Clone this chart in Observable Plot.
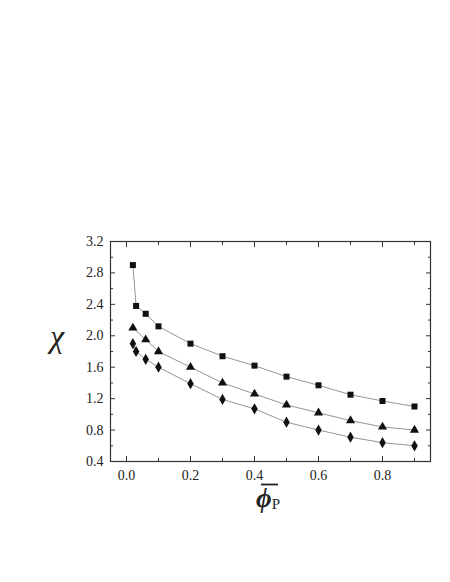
<!DOCTYPE html>
<html><head><meta charset="utf-8">
<script src="https://cdn.jsdelivr.net/npm/d3@7"></script>
<script src="https://cdn.jsdelivr.net/npm/@observablehq/plot@0.6"></script>
<style>
body{margin:0;background:#fff}
</style>
</head><body><div id="chart"></div>
<script>
const squareX = [0.02, 0.03, 0.06, 0.1, 0.2, 0.3, 0.4, 0.5, 0.6, 0.7, 0.8, 0.9];
const squareY = [2.90, 2.38, 2.28, 2.12, 1.90, 1.74, 1.62, 1.48, 1.37, 1.25, 1.17, 1.10];
const triangleX = [0.02, 0.06, 0.1, 0.2, 0.3, 0.4, 0.5, 0.6, 0.7, 0.8, 0.9];
const triangleY = [2.10, 1.95, 1.80, 1.60, 1.40, 1.26, 1.12, 1.02, 0.92, 0.84, 0.80];
const diamondX = [0.02, 0.03, 0.06, 0.1, 0.2, 0.3, 0.4, 0.5, 0.6, 0.7, 0.8, 0.9];
const diamondY = [1.90, 1.80, 1.70, 1.60, 1.39, 1.19, 1.07, 0.90, 0.80, 0.71, 0.64, 0.60];

const xMajor = [0.0, 0.2, 0.4, 0.6, 0.8];
const xMinor = [0.1, 0.3, 0.5, 0.7, 0.9];
const yMajor = [0.4, 0.8, 1.2, 1.6, 2.0, 2.4, 2.8, 3.2];
const yMinor = [0.6, 1.0, 1.4, 1.8, 2.2, 2.6, 3.0];

const rows = [
  ...squareX.map((x, i) => ({x, y: squareY[i], s: "square"})),
  ...triangleX.map((x, i) => ({x, y: triangleY[i], s: "triangle"})),
  ...diamondX.map((x, i) => ({x, y: diamondY[i], s: "diamond"}))
];

const SERIF = "Liberation Serif";
const fmt = d3.format(".1f");
const axisColor = "#333";
const blank = () => "";

const chart = Plot.plot({
  width: 450, height: 582,
  marginLeft: 110, marginRight: 20, marginTop: 241, marginBottom: 121,
  style: "font-family: 'Liberation Serif'; background: #fff;",
  x: {domain: [-0.05, 0.95], axis: null},
  y: {domain: [0.4, 3.2], axis: null},
  symbol: {domain: ["square", "triangle", "diamond"], range: ["square", "triangle", "diamond2"]},
  marks: [
    Plot.frame({stroke: axisColor, strokeWidth: 1.2}),
    Plot.axisX(xMajor, {anchor: "bottom", tickSize: -5, tickFormat: blank, label: null, stroke: axisColor}),
    Plot.axisX(xMinor, {anchor: "bottom", tickSize: -3, tickFormat: blank, label: null, stroke: axisColor}),
    Plot.axisX(xMajor, {anchor: "top", tickSize: -5, tickFormat: blank, label: null, stroke: axisColor}),
    Plot.axisX(xMinor, {anchor: "top", tickSize: -3, tickFormat: blank, label: null, stroke: axisColor}),
    Plot.axisY(yMajor, {anchor: "left", tickSize: -5, tickFormat: blank, label: null, stroke: axisColor}),
    Plot.axisY(yMinor, {anchor: "left", tickSize: -3, tickFormat: blank, label: null, stroke: axisColor}),
    Plot.axisY(yMajor, {anchor: "right", tickSize: -5, tickFormat: blank, label: null, stroke: axisColor}),
    Plot.axisY(yMinor, {anchor: "right", tickSize: -3, tickFormat: blank, label: null, stroke: axisColor}),
    Plot.axisX(xMajor, {anchor: "bottom", tickSize: 0, tickPadding: 9, tickFormat: fmt, label: null, fontSize: 14, fontFamily: SERIF, fill: "#222"}),
    Plot.axisY(yMajor, {anchor: "left", tickSize: 0, tickPadding: 7, tickFormat: fmt, label: null, fontSize: 14, fontFamily: SERIF, fill: "#222"}),
    Plot.line(rows, {x: "x", y: "y", z: "s", stroke: "#888", strokeWidth: 0.9}),
    Plot.dot(rows, {x: "x", y: "y", symbol: "s", fill: "#111", stroke: "none", r: 3.4})
  ]
});

const svg = d3.select(chart);
svg.append("text")
  .attr("x", 57).attr("y", 347)
  .attr("text-anchor", "middle")
  .attr("font-family", SERIF)
  .attr("font-size", 32).attr("font-style", "italic")
  .attr("fill", "#222")
  .text("χ");
// overline of the x-axis symbol
svg.append("line")
  .attr("x1", 261).attr("x2", 278).attr("y1", 484.5).attr("y2", 484.5)
  .attr("stroke", "#222").attr("stroke-width", 1.8);
const xl = svg.append("text")
  .attr("x", 256).attr("y", 507)
  .attr("text-anchor", "start")
  .attr("font-family", SERIF)
  .attr("fill", "#222");
xl.append("tspan")
  .attr("font-size", 27).attr("font-style", "italic").attr("font-weight", "bold")
  .text("ϕ");
xl.append("tspan")
  .attr("font-size", 15).attr("dy", 2).attr("dx", 0)
  .text("P");

document.getElementById("chart").appendChild(chart);
</script>
</body></html>
